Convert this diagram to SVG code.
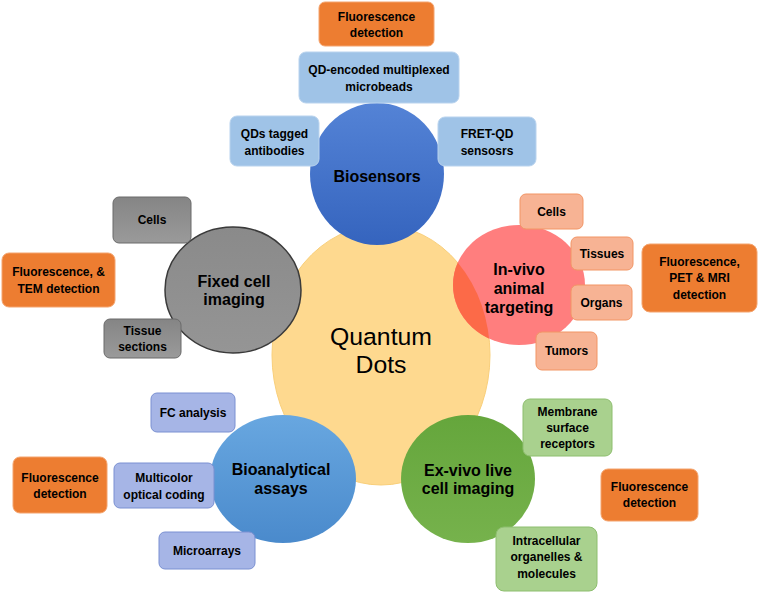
<svg xmlns="http://www.w3.org/2000/svg" width="759" height="594" viewBox="0 0 759 594">
<style>
text{font-family:"Liberation Sans",Arial,sans-serif;fill:#000;text-anchor:middle}
.b{font-size:12px;font-weight:bold}
.c{font-size:16px;font-weight:bold}
.q{font-size:24.5px}
.or{fill:#ED7D31;stroke:#F4A46E;stroke-width:1}
.lb{fill:#9FC3E7;stroke:#B9D3EE;stroke-width:1}
.gr{fill:url(#gGrey);stroke:#6A6A6A;stroke-width:1}
.sa{fill:#F7B394;stroke:#F29565;stroke-width:1}
.lv{fill:#A6B5E6;stroke:#7A90D2;stroke-width:1}
.gn{fill:#A9D18E;stroke:#8DBE6E;stroke-width:1}
</style>
<defs>
<linearGradient id="gGrey" x1="0" y1="0" x2="0" y2="1"><stop offset="0" stop-color="#858585"/><stop offset="1" stop-color="#9A9A9A"/></linearGradient>
<linearGradient id="gBio" x1="0" y1="0" x2="0" y2="1"><stop offset="0" stop-color="#5483D6"/><stop offset="1" stop-color="#3564BE"/></linearGradient>
<linearGradient id="gBa" x1="0" y1="0" x2="0" y2="1"><stop offset="0" stop-color="#68A7E0"/><stop offset="1" stop-color="#4A8ACC"/></linearGradient>
<linearGradient id="gGn" x1="0" y1="0" x2="0" y2="1"><stop offset="0" stop-color="#65A63C"/><stop offset="1" stop-color="#76B24C"/></linearGradient>
<linearGradient id="gFx" x1="0" y1="0" x2="0" y2="1"><stop offset="0" stop-color="#8A8A8A"/><stop offset="1" stop-color="#959595"/></linearGradient>
<clipPath id="qdClip"><ellipse cx="381" cy="355" rx="109" ry="130"/></clipPath>
</defs>
<g id="connectors"/>
<g id="quantum-dots">
<ellipse cx="381" cy="355" rx="109" ry="130" fill="#FED98F" stroke="#F9CF7A" stroke-width="1"/>
<text class="q" x="381" y="345" textLength="102" lengthAdjust="spacingAndGlyphs">Quantum</text>
<text class="q" x="381" y="373" textLength="51" lengthAdjust="spacingAndGlyphs">Dots</text>
</g>
<g id="biosensors">
<ellipse cx="377" cy="174" rx="67" ry="71" fill="url(#gBio)"/>
<text class="c" x="377" y="182">Biosensors</text>
</g>
<g id="fixed-cell-imaging">
<ellipse cx="233" cy="290" rx="68" ry="63" fill="url(#gFx)" stroke="#3A3A3A" stroke-width="1.5"/>
<text class="c" x="234" y="287">Fixed cell</text>
<text class="c" x="234" y="305">imaging</text>
</g>
<g id="in-vivo-animal-targeting">
<ellipse cx="519" cy="285" rx="66" ry="60" fill="#FF7E7E"/>
<ellipse cx="519" cy="285" rx="66" ry="60" fill="#FC6A48" clip-path="url(#qdClip)"/>
<text class="c" x="519" y="275">In-vivo</text>
<text class="c" x="519" y="294">animal</text>
<text class="c" x="519" y="313">targeting</text>
</g>
<g id="ex-vivo-live-cell-imaging">
<ellipse cx="468" cy="479" rx="67" ry="64" fill="url(#gGn)"/>
<text class="c" x="468" y="476">Ex-vivo live</text>
<text class="c" x="468" y="494">cell imaging</text>
</g>
<g id="bioanalytical-assays">
<ellipse cx="283" cy="479" rx="73" ry="64" fill="url(#gBa)"/>
<text class="c" x="281" y="475">Bioanalytical</text>
<text class="c" x="281" y="494">assays</text>
</g>
<g id="bio-fluorescence">
<rect class="or" x="319" y="2" width="115" height="44" rx="6"/>
<text class="b" x="376.5" y="21">Fluorescence</text>
<text class="b" x="376.5" y="37">detection</text>
</g>
<g id="qd-encoded-microbeads">
<rect class="lb" x="299" y="52" width="160" height="51" rx="7"/>
<text class="b" x="379" y="74">QD-encoded multiplexed</text>
<text class="b" x="379" y="91">microbeads</text>
</g>
<g id="qds-tagged-antibodies">
<rect class="lb" x="230" y="116" width="89" height="50" rx="7"/>
<text class="b" x="274.5" y="138">QDs tagged</text>
<text class="b" x="274.5" y="155">antibodies</text>
</g>
<g id="fret-qd-sensors">
<rect class="lb" x="438" y="117" width="98" height="49" rx="7"/>
<text class="b" x="487" y="138">FRET-QD</text>
<text class="b" x="487" y="155">sensosrs</text>
</g>
<g id="fixed-cells">
<rect class="gr" x="113" y="197" width="78" height="46" rx="6"/>
<text class="b" x="152" y="224">Cells</text>
</g>
<g id="fixed-fluorescence-tem">
<rect class="or" x="2" y="253" width="113" height="54" rx="7"/>
<text class="b" x="58.5" y="276">Fluorescence, &amp;</text>
<text class="b" x="58.5" y="293">TEM detection</text>
</g>
<g id="tissue-sections">
<rect class="gr" x="104" y="319" width="77" height="39" rx="6"/>
<text class="b" x="142.5" y="335">Tissue</text>
<text class="b" x="142.5" y="351">sections</text>
</g>
<g id="invivo-cells">
<rect class="sa" x="520" y="194" width="63" height="35" rx="6"/>
<text class="b" x="551.5" y="216">Cells</text>
</g>
<g id="invivo-tissues">
<rect class="sa" x="571" y="237" width="62" height="33" rx="6"/>
<text class="b" x="602" y="258">Tissues</text>
</g>
<g id="invivo-organs">
<rect class="sa" x="571" y="285" width="61" height="35" rx="6"/>
<text class="b" x="601.5" y="307">Organs</text>
</g>
<g id="invivo-tumors">
<rect class="sa" x="536" y="332" width="61" height="38" rx="6"/>
<text class="b" x="566.5" y="355">Tumors</text>
</g>
<g id="invivo-fluorescence-pet-mri">
<rect class="or" x="642" y="244" width="115" height="68" rx="8"/>
<text class="b" x="699.5" y="266">Fluorescence,</text>
<text class="b" x="699.5" y="282">PET &amp; MRI</text>
<text class="b" x="699.5" y="299">detection</text>
</g>
<g id="fc-analysis">
<rect class="lv" x="151" y="393" width="84" height="39" rx="6"/>
<text class="b" x="193" y="417">FC analysis</text>
</g>
<g id="bioanalytical-fluorescence">
<rect class="or" x="13" y="457" width="94" height="56" rx="7"/>
<text class="b" x="60" y="482">Fluorescence</text>
<text class="b" x="60" y="498">detection</text>
</g>
<g id="multicolor-optical-coding">
<rect class="lv" x="114" y="463" width="100" height="45" rx="6"/>
<text class="b" x="164" y="482">Multicolor</text>
<text class="b" x="164" y="499">optical coding</text>
</g>
<g id="microarrays">
<rect class="lv" x="159" y="532" width="96" height="37" rx="6"/>
<text class="b" x="207" y="555">Microarrays</text>
</g>
<g id="membrane-surface-receptors">
<rect class="gn" x="523" y="399" width="89" height="57" rx="7"/>
<text class="b" x="567.5" y="416">Membrane</text>
<text class="b" x="567.5" y="432">surface</text>
<text class="b" x="567.5" y="448">receptors</text>
</g>
<g id="exvivo-fluorescence">
<rect class="or" x="601" y="469" width="97" height="52" rx="7"/>
<text class="b" x="649.5" y="491">Fluorescence</text>
<text class="b" x="649.5" y="507">detection</text>
</g>
<g id="intracellular-organelles">
<rect class="gn" x="496" y="527" width="101" height="64" rx="8"/>
<text class="b" x="546.5" y="545">Intracellular</text>
<text class="b" x="546.5" y="561">organelles &amp;</text>
<text class="b" x="546.5" y="578">molecules</text>
</g>
</svg>
